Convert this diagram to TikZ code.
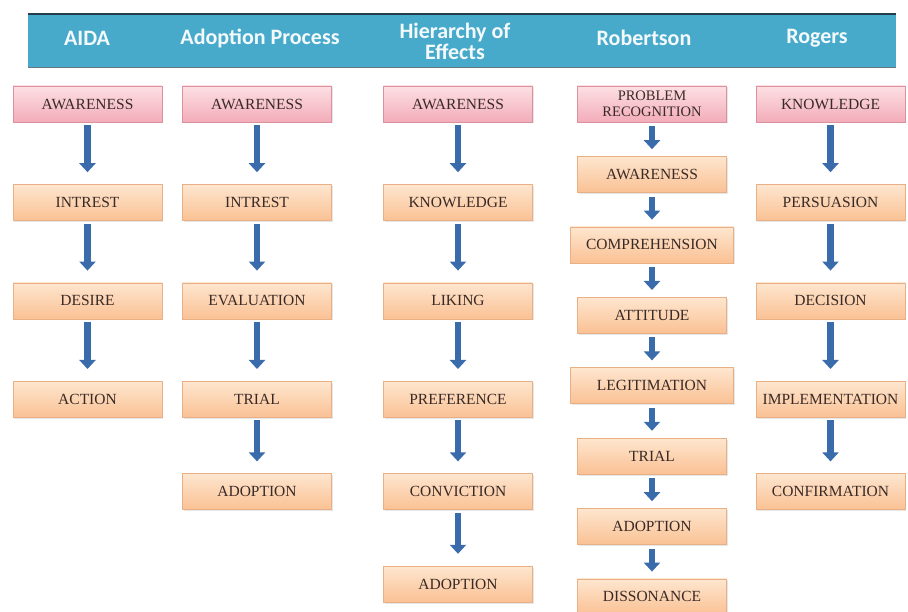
\documentclass[tikz,border=0pt]{standalone}
\usepackage{fontspec}
\usepackage{tikz}
\usetikzlibrary{arrows.meta, positioning, shadows}
\newfontfamily\boxfont{Liberation Serif}
\newfontfamily\hdrfont{Carlito}
\definecolor{hdrteal}{RGB}{72,170,203}
\definecolor{hdrline}{RGB}{35,62,72}
\definecolor{pinktop}{RGB}{253,224,228}
\definecolor{pinkbot}{RGB}{242,172,185}
\definecolor{pinkedge}{RGB}{220,146,158}
\definecolor{orgtop}{RGB}{254,230,207}
\definecolor{orgbot}{RGB}{250,193,148}
\definecolor{orgedge}{RGB}{232,176,132}
\definecolor{arrblue}{RGB}{58,108,172}
\definecolor{boxtext}{RGB}{58,42,38}

\begin{document}
\begin{tikzpicture}[
  x=1pt, y=1pt,
  hdrbar/.style={fill=hdrteal, minimum width=868pt, minimum height=53pt,
                 inner sep=0pt},
  hdr/.style={text=white!94!hdrteal, align=center,
              font=\hdrfont\bfseries\fontsize{22}{21}\selectfont},
  stage/.style={draw=orgedge, top color=orgtop, bottom color=orgbot,
                minimum width=149pt, minimum height=36pt, inner xsep=2pt,
                inner ysep=0pt, align=center, text=boxtext,
                font=\boxfont\fontsize{15.5}{16}\selectfont,
                drop shadow={opacity=0.2, shadow xshift=1pt, shadow yshift=-1.5pt}},
  first/.style={stage, draw=pinkedge, top color=pinktop, bottom color=pinkbot},
  wide/.style={minimum width=163pt},
  arr/.style={-{Triangle[width=16pt, length=9pt]}, line width=6.5pt, arrblue,
              shorten <=3pt, shorten >=12pt},
  arrs/.style={arr, shorten <=4pt, shorten >=7pt}
]
\useasboundingbox (0,0) rectangle (908,-612);

\node[hdrbar] (bar) at (462,-40.5) {};
\draw[hdrline, line width=2.2pt] (bar.north west) -- (bar.north east);
\draw[hdrline!70, line width=0.8pt] (bar.south west) -- (bar.south east);
\node[hdr] (hAIDA) at (87,-38) {AIDA};
\node[hdr] (hAdop) at (260,-38) {Adoption Process};
\node[hdr] (hHier) at (455,-41.5) {Hierarchy of\\Effects};
\node[hdr] (hRob) at (644,-38) {Robertson};
\node[hdr] (hRog) at (817,-38) {Rogers};

\node[first] (aida1) at (87.5,-104) {AWARENESS};
\node[stage, below=62pt of aida1] (aida2) {INTREST};
\node[stage, below=62pt of aida2] (aida3) {DESIRE};
\node[stage, below=62pt of aida3] (aida4) {ACTION};

\node[first] (adop1) at (257,-104) {AWARENESS};
\node[stage, below=62pt of adop1] (adop2) {INTREST};
\node[stage, below=62pt of adop2] (adop3) {EVALUATION};
\node[stage, below=62pt of adop3] (adop4) {TRIAL};
\node[stage, below=56pt of adop4] (adop5) {ADOPTION};

\node[first] (hier1) at (458,-104) {AWARENESS};
\node[stage, below=62pt of hier1] (hier2) {KNOWLEDGE};
\node[stage, below=62pt of hier2] (hier3) {LIKING};
\node[stage, below=62pt of hier3] (hier4) {PREFERENCE};
\node[stage, below=56pt of hier4] (hier5) {CONVICTION};
\node[stage, below=56pt of hier5] (hier6) {ADOPTION};

\node[first, font=\boxfont\fontsize{14.5}{16}\selectfont] (rob1) at (652,-104)
  {PROBLEM\\RECOGNITION};
\node[stage, below=34pt of rob1] (rob2) {AWARENESS};
\node[stage, wide, below=34pt of rob2] (rob3) {COMPREHENSION};
\node[stage, below=34pt of rob3] (rob4) {ATTITUDE};
\node[stage, wide, below=34pt of rob4] (rob5) {LEGITIMATION};
\node[stage, below=34pt of rob5] (rob6) {TRIAL};
\node[stage, below=34pt of rob6] (rob7) {ADOPTION};
\node[stage, below=34pt of rob7] (rob8) {DISSONANCE};

\node[first] (rog1) at (830.5,-104) {KNOWLEDGE};
\node[stage, below=62pt of rog1] (rog2) {PERSUASION};
\node[stage, below=62pt of rog2] (rog3) {DECISION};
\node[stage, below=62pt of rog3] (rog4) {IMPLEMENTATION};
\node[stage, below=56pt of rog4] (rog5) {CONFIRMATION};

\draw[arr] (aida1) -- (aida2);
\draw[arr] (aida2) -- (aida3);
\draw[arr] (aida3) -- (aida4);
\draw[arr] (adop1) -- (adop2);
\draw[arr] (adop2) -- (adop3);
\draw[arr] (adop3) -- (adop4);
\draw[arr] (adop4) -- (adop5);
\draw[arr] (hier1) -- (hier2);
\draw[arr] (hier2) -- (hier3);
\draw[arr] (hier3) -- (hier4);
\draw[arr] (hier4) -- (hier5);
\draw[arr] (hier5) -- (hier6);
% Robertson has short gaps
\draw[arrs] (rob1) -- (rob2);
\draw[arrs] (rob2) -- (rob3);
\draw[arrs] (rob3) -- (rob4);
\draw[arrs] (rob4) -- (rob5);
\draw[arrs] (rob5) -- (rob6);
\draw[arrs] (rob6) -- (rob7);
\draw[arrs] (rob7) -- (rob8);
\draw[arr] (rog1) -- (rog2);
\draw[arr] (rog2) -- (rog3);
\draw[arr] (rog3) -- (rog4);
\draw[arr] (rog4) -- (rog5);
\end{tikzpicture}
\end{document}
